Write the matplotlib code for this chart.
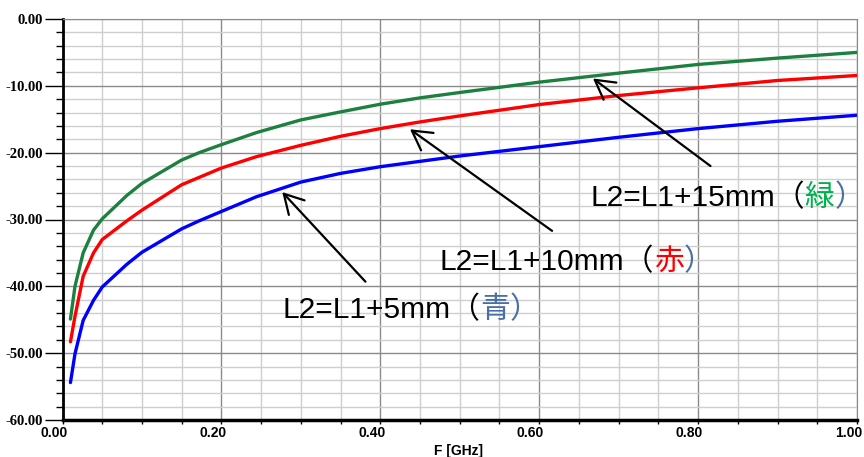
import matplotlib
matplotlib.use("Agg")
import matplotlib.pyplot as plt
import matplotlib.transforms as mtransforms
import numpy as np

# frequency [GHz] and |S| [dB]
freq = [0.01, 0.0157, 0.026, 0.039, 0.05, 0.081, 0.10, 0.15, 0.172, 0.20,
        0.244, 0.30, 0.35, 0.40, 0.45, 0.50, 0.60, 0.70, 0.80, 0.90, 1.00]
green = [-44.9, -40.0, -35.0, -31.6, -29.9, -26.4, -24.6, -21.1, -20.0, -18.8,
         -17.0, -15.1, -13.9, -12.75, -11.8, -11.0, -9.45, -8.1, -6.8, -5.85, -5.0]
red = [-48.3, -44.5, -38.5, -35.0, -33.0, -30.2, -28.6, -24.8, -23.7, -22.3,
       -20.6, -18.9, -17.55, -16.4, -15.4, -14.5, -12.8, -11.45, -10.3, -9.2, -8.45]
blue = [-54.4, -50.1, -45.1, -42.1, -40.1, -36.7, -34.9, -31.4, -30.2, -28.8,
        -26.6, -24.4, -23.1, -22.1, -21.3, -20.5, -19.1, -17.7, -16.4, -15.3, -14.4]

xticks = [0.0, 0.2, 0.4, 0.6, 0.8, 1.0]
yticks = [0, -10, -20, -30, -40, -50, -60]

# label pieces (text, colour), text anchor, arrow tip, arrow tail
labels = [
    ([("L2=L1+5mm（", "black"), ("青", "#4a6fa5"), ("）", "#4a6fa5")],
     (0.2764, -43.5), (0.2766, -25.9), (0.3813, -39.3)),
    ([("L2=L1+10mm（", "black"), ("赤", "#ff0000"), ("）", "#4a6fa5")],
     (0.4747, -36.3), (0.4374, -16.5), (0.6162, -31.7)),
    ([("L2=L1+15mm（", "black"), ("緑", "#00b050"), ("）", "#4a6fa5")],
     (0.664, -26.8), (0.6677, -8.9), (0.8156, -22.0)),
]

fig = plt.figure(figsize=(8.64, 4.57), dpi=100)
ax = fig.add_axes([62.5 / 864, 1 - 420 / 457, (857 - 62.5) / 864, (420 - 19) / 457])

ax.plot(freq, green, color="#1e8040", lw=2.4, solid_capstyle="round")
ax.plot(freq, red, color="#ff0000", lw=2.4, solid_capstyle="round")
ax.plot(freq, blue, color="#0000ff", lw=2.4, solid_capstyle="round")

ax.set_xlim(0, 1)
ax.set_ylim(-60, 0)

ax.set_xticks(xticks)
ax.set_xticks(np.arange(0, 1.0001, 0.05), minor=True)
ax.set_yticks(yticks)
ax.set_yticks(np.arange(-60, 0.001, 2), minor=True)
ax.grid(which="minor", color="#cfcfcf", lw=1.0)
ax.grid(which="major", color="#8a8a8a", lw=1.0)
ax.set_axisbelow(True)

ax.set_yticklabels(["%.2f" % v for v in yticks], family="Liberation Serif",
                   fontweight="bold", fontsize=10.5)
ax.set_xticklabels([])
# x labels end just right of their ticks
shift = mtransforms.ScaledTranslation(5 / 100, -6 / 100, fig.dpi_scale_trans)
for v in xticks:
    ax.text(v, 0, "%.2f" % v, transform=ax.get_xaxis_transform() + shift,
            family="Liberation Sans", fontweight="bold", fontsize=10,
            ha="right", va="top", clip_on=False)

ax.tick_params(axis="y", which="major", direction="out", length=13, width=1, pad=1)
ax.tick_params(axis="y", which="minor", direction="out", length=5, width=1)
ax.tick_params(axis="x", which="both", direction="out", length=3, width=1, pad=2)

ax.spines["left"].set_linewidth(2)
ax.spines["bottom"].set_linewidth(2.5)
ax.spines["top"].set_color("#8a8a8a")
ax.spines["right"].set_color("#8a8a8a")

fig.text(459 / 864, 1 - 451 / 457, "F [GHz]", family="Liberation Sans",
         fontweight="bold", fontsize=10, ha="center", va="center")

fam = ["Liberation Sans", "Noto Sans CJK JP"]
for parts, pos, tip, tail in labels:
    prev = None
    for s, c in parts:
        if prev is None:
            prev = ax.text(pos[0], pos[1], s, color=c, fontsize=21.5,
                           family=fam, ha="left", va="center", clip_on=False)
        else:
            prev = ax.annotate(s, xy=(1, 0), xycoords=prev, color=c,
                               fontsize=21.5, family=fam,
                               ha="left", va="bottom", annotation_clip=False)
    ax.annotate("", xy=tip, xytext=tail,
                arrowprops=dict(arrowstyle="->,head_length=0.62,head_width=0.35",
                                color="black", lw=1.6, mutation_scale=22,
                                shrinkA=0, shrinkB=0))

fig.savefig("out.png", dpi=100)
